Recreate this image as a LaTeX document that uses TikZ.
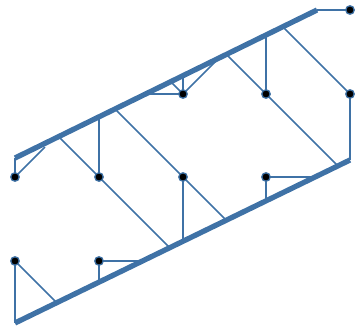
\documentclass[tikz,border=0pt]{standalone}
\definecolor{edgeblue}{RGB}{63,114,166}
\pgfdeclarelayer{background}
\pgfsetlayers{background,main}
\tikzset{
  thin edge/.style={draw=edgeblue, line width=1.5pt},
  thick edge/.style={draw=edgeblue, line width=5.3pt},
  vdot/.style={circle, fill=black, draw=edgeblue, line width=1.3pt, inner sep=0pt, minimum size=8.5pt}
}
\begin{document}
\begin{tikzpicture}[x=1pt,y=-1pt]
\useasboundingbox (0,0) rectangle (356,329);
% thick line ends
\coordinate (U0) at (15,158);
\coordinate (U1) at (317,10);
\coordinate (L0) at (15,323);
\coordinate (L1) at (350,160);
% dots
\node[vdot] (d40) at (350,10) {};
\node[vdot] (d21) at (183,94) {};
\node[vdot] (d31) at (266,94) {};
\node[vdot] (d41) at (350,94) {};
\node[vdot] (d02) at (15,177) {};
\node[vdot] (d12) at (99,177) {};
\node[vdot] (d22) at (183,177) {};
\node[vdot] (d32) at (266,177) {};
\node[vdot] (d03) at (15,261) {};
\node[vdot] (d13) at (99,261) {};
% attachment points
\coordinate (a1) at (282.77,26.77);
\coordinate (a2) at (266,35.0);
\coordinate (a3) at (226.40,54.40);
\coordinate (a4) at (337.89,165.89);
\coordinate (b1) at (145.6,94);
\coordinate (b2) at (183,75.67);
\coordinate (b3) at (170.70,81.70);
\coordinate (b4) at (218.95,58.05);
\coordinate (c1) at (99,116.83);
\coordinate (c2) at (58.62,136.62);
\coordinate (c3) at (169.72,247.72);
\coordinate (e1) at (183,241.26);
\coordinate (e2) at (115.0,109.0);
\coordinate (e3) at (226.22,220.22);
\coordinate (f1) at (266,200.87);
\coordinate (f2) at (315.06,177);
\coordinate (g1) at (56.71,302.71);
\coordinate (h1) at (99,282.13);
\coordinate (h2) at (142.42,261);
\coordinate (k1) at (45,147);
\begin{pgfonlayer}{background}
% thin connectors
\draw[thin edge] (d40.center) -- (U1);
\draw[thin edge] (a1) -- (d41.center);
\draw[thin edge] (d41.center) -- (L1);
\draw[thin edge] (d31.center) -- (a2);
\draw[thin edge] (a3) -- (d31.center) -- (a4);
\draw[thin edge] (d21.center) -- (b1);
\draw[thin edge] (d21.center) -- (b2);
\draw[thin edge] (d21.center) -- (b3);
\draw[thin edge] (d21.center) -- (b4);
\draw[thin edge] (d12.center) -- (c1);
\draw[thin edge] (c2) -- (d12.center) -- (c3);
\draw[thin edge] (d22.center) -- (e1);
\draw[thin edge] (e2) -- (d22.center) -- (e3);
\draw[thin edge] (d32.center) -- (f1);
\draw[thin edge] (d32.center) -- (f2);
\draw[thin edge] (d02.center) -- (U0);
\draw[thin edge] (d02.center) -- (k1);
\draw[thin edge] (d03.center) -- (L0);
\draw[thin edge] (d03.center) -- (g1);
\draw[thin edge] (d13.center) -- (h1);
\draw[thin edge] (d13.center) -- (h2);
% thick lines
\draw[thick edge] (U0) -- (U1);
\draw[thick edge] (L0) -- (L1);
\end{pgfonlayer}
\end{tikzpicture}
\end{document}
